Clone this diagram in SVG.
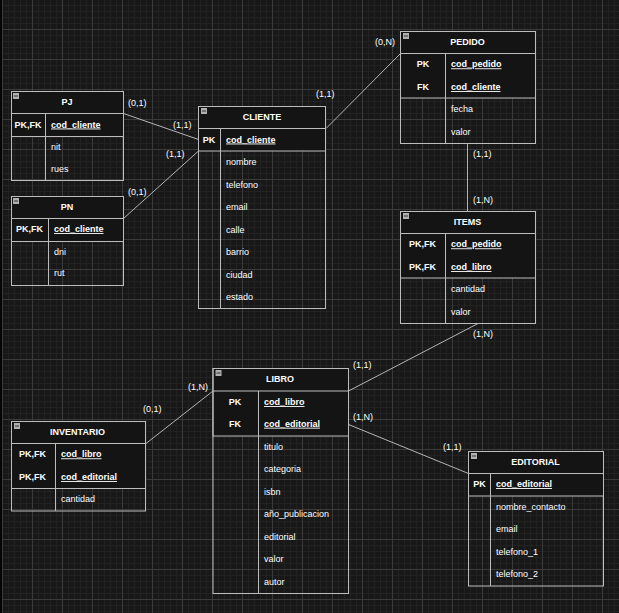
<svg xmlns="http://www.w3.org/2000/svg" width="619" height="613" viewBox="0 0 619 613">
<defs>
<pattern id="grid" patternUnits="userSpaceOnUse" x="2" y="29" width="30" height="30">
<rect width="30" height="30" fill="#181818"/>
<g fill="#222222">
<rect x="6" y="0" width="1" height="30"/><rect x="12" y="0" width="1" height="30"/><rect x="18" y="0" width="1" height="30"/><rect x="24" y="0" width="1" height="30"/>
<rect x="0" y="6" width="30" height="1"/><rect x="0" y="12" width="30" height="1"/><rect x="0" y="18" width="30" height="1"/><rect x="0" y="24" width="30" height="1"/>
</g>
<rect x="0" y="0" width="1" height="30" fill="#3a3a3a"/>
<rect x="0" y="0" width="30" height="1" fill="#3a3a3a"/>
</pattern>
<g id="icon"><rect x="0" y="0" width="6" height="6" fill="#b0b0b0"/><rect x="1" y="2.5" width="4" height="1" fill="#333"/></g>
</defs>
<style>
text{font-family:"Liberation Sans",Arial,sans-serif;font-size:9px;fill:#ffffff}
.t{font-weight:bold;text-anchor:middle}
.k{font-weight:bold;text-anchor:middle}
.kf{font-weight:bold;text-decoration:underline}
.solid{fill:#141414;stroke:#bdbdbd;stroke-width:1}
.frame{fill:none;stroke:#bdbdbd;stroke-width:1}
.ln{stroke:#bdbdbd;stroke-width:1}
.c{stroke:#b5b5b5;stroke-width:1;fill:none}
</style>
<rect width="619" height="613" fill="url(#grid)"/>
<rect x="0" y="0" width="2" height="613" fill="#050505"/>

<g id="connectors">
<line class="c" x1="123.5" y1="113.5" x2="198.5" y2="139.5"/>
<line class="c" x1="123.5" y1="218.5" x2="198.5" y2="151"/>
<line class="c" x1="326" y1="128.5" x2="400.5" y2="53.5"/>
<line class="c" x1="467.5" y1="143.5" x2="467.5" y2="211"/>
<line class="c" x1="478" y1="323.5" x2="348.5" y2="391"/>
<line class="c" x1="348.5" y1="424.5" x2="468.5" y2="473.5"/>
<line class="c" x1="146" y1="443.5" x2="213" y2="391"/>
<text x="128" y="105.5">(0,1)</text>
<text x="173" y="127.5">(1,1)</text>
<text x="166" y="156.5">(1,1)</text>
<text x="128" y="195">(0,1)</text>
<text x="375" y="45">(0,N)</text>
<text x="316" y="96.5">(1,1)</text>
<text x="473" y="157.3">(1,1)</text>
<text x="473" y="202.7">(1,N)</text>
<text x="473" y="336.7">(1,N)</text>
<text x="353" y="367.5">(1,1)</text>
<text x="353" y="419.5">(1,N)</text>
<text x="443" y="450">(1,1)</text>
<text x="188" y="390">(1,N)</text>
<text x="143" y="412.3">(0,1)</text>
</g>

<g id="PJ">
<rect class="solid" x="11.5" y="91.5" width="112" height="45"/>
<rect class="frame" x="11.5" y="91.5" width="112" height="89"/>
<line class="ln" x1="11.5" y1="113.5" x2="123.5" y2="113.5"/>
<line class="ln" x1="45.5" y1="113.5" x2="45.5" y2="180.5"/>
<use href="#icon" x="13" y="93"/>
<text class="t" x="67" y="105">PJ</text>
<text class="k" x="28" y="127.5">PK,FK</text>
<text class="kf" x="51" y="127.5">cod_cliente</text>
<text x="51" y="150">nit</text>
<text x="51" y="172.3">rues</text>
</g>

<g id="PN">
<rect class="solid" x="11.5" y="196.5" width="112" height="45"/>
<rect class="frame" x="11.5" y="196.5" width="112" height="89"/>
<line class="ln" x1="11.5" y1="218.5" x2="123.5" y2="218.5"/>
<line class="ln" x1="48.5" y1="218.5" x2="48.5" y2="285.5"/>
<use href="#icon" x="13" y="198"/>
<text class="t" x="67" y="210">PN</text>
<text class="k" x="29.5" y="232">PK,FK</text>
<text class="kf" x="54" y="232">cod_cliente</text>
<text x="54" y="255">dni</text>
<text x="54" y="276.3">rut</text>
</g>

<g id="CLIENTE">
<rect class="solid" x="198.5" y="106.5" width="127" height="44.5"/>
<rect class="frame" x="198.5" y="106.5" width="127" height="202"/>
<line class="ln" x1="198.5" y1="128.5" x2="325.5" y2="128.5"/>
<line class="ln" x1="220.5" y1="128.5" x2="220.5" y2="308.5"/>
<use href="#icon" x="201" y="108"/>
<text class="t" x="262" y="120">CLIENTE</text>
<text class="k" x="209" y="142.5">PK</text>
<text class="kf" x="226" y="142.5">cod_cliente</text>
<text x="226" y="165">nombre</text>
<text x="226" y="187.5">telefono</text>
<text x="226" y="210">email</text>
<text x="226" y="232.5">calle</text>
<text x="226" y="255">barrio</text>
<text x="226" y="277.5">ciudad</text>
<text x="226" y="300">estado</text>
</g>

<g id="PEDIDO">
<rect class="solid" x="400.5" y="31.5" width="135" height="66.5"/>
<rect class="frame" x="400.5" y="31.5" width="135" height="112"/>
<line class="ln" x1="400.5" y1="53.5" x2="535.5" y2="53.5"/>
<line class="ln" x1="445.5" y1="53.5" x2="445.5" y2="143.5"/>
<use href="#icon" x="403" y="33"/>
<text class="t" x="467.5" y="45">PEDIDO</text>
<text class="k" x="423" y="67.3">PK</text>
<text class="k" x="423" y="90">FK</text>
<text class="kf" x="451" y="67.3">cod_pedido</text>
<text class="kf" x="451" y="90">cod_cliente</text>
<text x="451" y="111.7">fecha</text>
<text x="451" y="135">valor</text>
</g>

<g id="ITEMS">
<rect class="solid" x="400.5" y="211.5" width="135" height="66.5"/>
<rect class="frame" x="400.5" y="211.5" width="135" height="112"/>
<line class="ln" x1="400.5" y1="233.5" x2="535.5" y2="233.5"/>
<line class="ln" x1="445.5" y1="233.5" x2="445.5" y2="323.5"/>
<use href="#icon" x="403" y="213"/>
<text class="t" x="467.5" y="225">ITEMS</text>
<text class="k" x="422.5" y="247.3">PK,FK</text>
<text class="k" x="422.5" y="270">PK,FK</text>
<text class="kf" x="451" y="247.3">cod_pedido</text>
<text class="kf" x="451" y="270">cod_libro</text>
<text x="451" y="292">cantidad</text>
<text x="451" y="315.3">valor</text>
</g>

<g id="INVENTARIO">
<rect class="solid" x="11.5" y="421.5" width="134" height="67"/>
<rect class="frame" x="11.5" y="421.5" width="134" height="89.5"/>
<line class="ln" x1="11.5" y1="443.5" x2="145.5" y2="443.5"/>
<line class="ln" x1="55.5" y1="443.5" x2="55.5" y2="511"/>
<use href="#icon" x="14" y="423"/>
<text class="t" x="77.5" y="435">INVENTARIO</text>
<text class="k" x="32.5" y="457.3">PK,FK</text>
<text class="k" x="32.5" y="480">PK,FK</text>
<text class="kf" x="61" y="457.3">cod_libro</text>
<text class="kf" x="61" y="480">cod_editorial</text>
<text x="61" y="502">cantidad</text>
</g>

<g id="LIBRO">
<rect class="solid" x="213" y="368.5" width="135.5" height="67.5"/>
<rect class="frame" x="213" y="368.5" width="135.5" height="225"/>
<line class="ln" x1="213" y1="391" x2="348.5" y2="391"/>
<line class="ln" x1="258.5" y1="391" x2="258.5" y2="593.5"/>
<use href="#icon" x="215.5" y="370"/>
<text class="t" x="280" y="381.7">LIBRO</text>
<text class="k" x="235" y="405">PK</text>
<text class="k" x="235" y="426.7">FK</text>
<text class="kf" x="264" y="405">cod_libro</text>
<text class="kf" x="264" y="426.7">cod_editorial</text>
<text x="264" y="450">titulo</text>
<text x="264" y="472">categoria</text>
<text x="264" y="495">isbn</text>
<text x="264" y="517.3">año_publicacion</text>
<text x="264" y="540">editorial</text>
<text x="264" y="562.3">valor</text>
<text x="264" y="585">autor</text>
</g>

<g id="EDITORIAL">
<rect class="solid" x="468.5" y="451.5" width="135" height="44.5"/>
<rect class="frame" x="468.5" y="451.5" width="135" height="134.5"/>
<line class="ln" x1="468.5" y1="473.5" x2="603.5" y2="473.5"/>
<line class="ln" x1="490.5" y1="473.5" x2="490.5" y2="586"/>
<use href="#icon" x="471" y="453"/>
<text class="t" x="535.5" y="465">EDITORIAL</text>
<text class="k" x="479.5" y="487">PK</text>
<text class="kf" x="496" y="487">cod_editorial</text>
<text x="496" y="510">nombre_contacto</text>
<text x="496" y="532.3">email</text>
<text x="496" y="555">telefono_1</text>
<text x="496" y="577.3">telefono_2</text>
</g>
</svg>
